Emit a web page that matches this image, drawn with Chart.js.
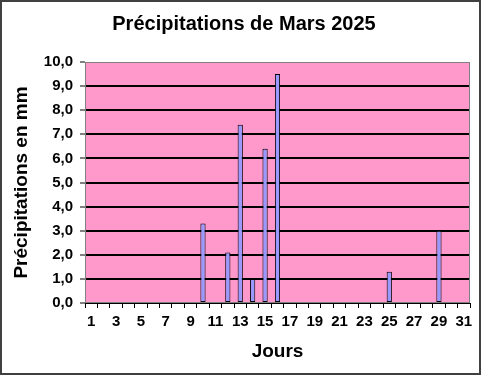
<!DOCTYPE html>
<html>
<head>
<meta charset="utf-8">
<script src="https://cdn.jsdelivr.net/npm/chart.js@4/dist/chart.umd.min.js"></script>
<style>
  body { margin: 0; background: #fff; }
  canvas { display: block; }
</style>
</head>
<body>
<canvas id="rainChart" width="481" height="375"></canvas>
<script>
const days = ['1', '2', '3', '4', '5', '6', '7', '8', '9', '10', '11', '12', '13', '14', '15', '16',
              '17', '18', '19', '20', '21', '22', '23', '24', '25', '26', '27', '28', '29', '30', '31'];
const rain = [0, 0, 0, 0, 0, 0, 0, 0, 0, 3.3, 0, 2.1, 7.4, 1.0, 6.4, 9.5,
              0, 0, 0, 0, 0, 0, 0, 0, 1.3, 0, 0, 0, 3.0, 0, 0];
const yTicks = [0, 1, 2, 3, 4, 5, 6, 7, 8, 9, 10];

const font = 'Arial, "Liberation Sans", sans-serif';

// pink plot area + frame around the whole picture
const frame = {
    id: 'frame',
    beforeDraw(chart) {
        const { ctx, chartArea: a } = chart;
        ctx.save();
        ctx.fillStyle = '#fff';
        ctx.fillRect(0, 0, chart.width, chart.height);
        ctx.fillStyle = '#FF99CC';
        ctx.fillRect(a.left, a.top, a.right - a.left, a.bottom - a.top);
        ctx.restore();
    },
    afterDraw(chart) {
        const { ctx, chartArea: a } = chart;
        ctx.save();
        ctx.strokeStyle = '#808080';
        ctx.lineWidth = 1;
        ctx.strokeRect(a.left + 0.5, a.top + 0.5, a.right - a.left - 1, a.bottom - a.top - 1);
        ctx.strokeStyle = '#404040';
        ctx.lineWidth = 2;
        ctx.strokeRect(1, 1, chart.width - 2, chart.height - 2);
        ctx.restore();
    }
};

const ctx = document.getElementById('rainChart').getContext('2d');
const rainChart = new Chart(ctx, {
    type: 'bar',
    data: {
        labels: days,
        datasets: [{
            data: rain,
            backgroundColor: '#9999FF',
            borderColor: '#000',
            borderWidth: c => (c.raw ? 1 : 0),
            borderSkipped: false,
            barPercentage: 0.42,
            categoryPercentage: 1
        }]
    },
    options: {
        responsive: false,
        animation: false,
        layout: { padding: { left: 18, right: 11, top: 0, bottom: 0 } },
        plugins: {
            legend: { display: false },
            tooltip: { enabled: false },
            title: {
                display: true,
                text: 'Précipitations de Mars 2025',
                color: '#000',
                font: { family: font, size: 20, weight: 'bold' },
                padding: { top: 12, bottom: 26 }
            }
        },
        scales: {
            x: {
                grid: {
                    offset: true,
                    drawOnChartArea: false,
                    color: '#000',
                    tickLength: 5
                },
                border: { color: '#000', width: 1 },
                ticks: {
                    autoSkip: false,
                    maxRotation: 0,
                    color: '#000',
                    padding: 5,
                    font: { family: font, size: 15, weight: 'bold' },
                    callback: (v, i) => (i % 2 === 0 ? days[i] : '')
                },
                title: {
                    display: true,
                    text: 'Jours',
                    color: '#000',
                    font: { family: font, size: 19, weight: 'bold' },
                    padding: { top: 0, bottom: 11.5 }
                },
                afterFit: s => { s.height = 72; }
            },
            y: {
                min: 0,
                max: 10,
                afterBuildTicks: s => { s.ticks = yTicks.map(v => ({ value: v })); },
                grid: {
                    color: c => (c.tick && (c.tick.value === 0 || c.tick.value === 10) ? 'rgba(0,0,0,0)' : '#000'),
                    lineWidth: 2,
                    tickColor: '#000',
                    tickWidth: 1,
                    tickLength: 5
                },
                border: { display: false },
                ticks: {
                    color: '#000',
                    padding: 7,
                    font: { family: font, size: 15, weight: 'bold' },
                    callback: v => v.toFixed(1).replace('.', ',')
                },
                title: {
                    display: true,
                    text: 'Précipitations en mm',
                    color: '#000',
                    font: { family: font, size: 19, weight: 'bold' },
                    padding: { top: -7.5, bottom: 0 }
                },
                afterFit: s => { s.width = 67; }
            }
        }
    },
    plugins: [frame]
});
</script>
</body>
</html>
